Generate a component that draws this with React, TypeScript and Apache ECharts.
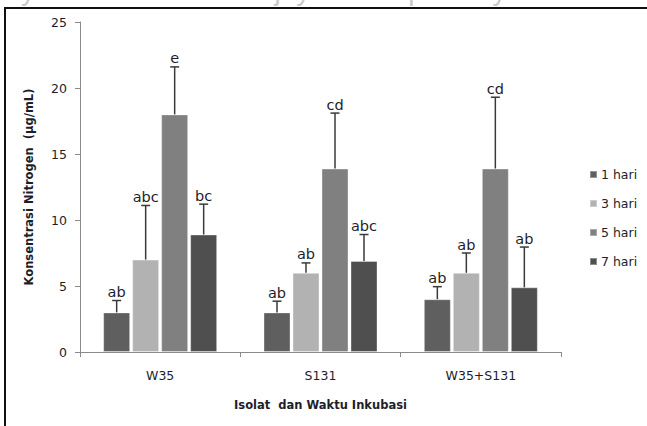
import React, { useEffect, useRef } from "react";
import * as echarts from "echarts";

const categories = ["W35", "S131", "W35+S131"];
const seriesNames = ["1 hari", "3 hari", "5 hari", "7 hari"];
const values = [
  [3.0, 3.0, 4.0],
  [7.0, 6.0, 6.0],
  [18.0, 13.9, 13.9],
  [8.9, 6.9, 4.9],
];
const errors = [
  [0.9, 0.85, 0.95],
  [4.1, 0.75, 1.5],
  [3.6, 4.2, 5.4],
  [2.3, 2.0, 3.05],
];
const letters = [
  ["ab", "ab", "ab"],
  ["abc", "ab", "ab"],
  ["e", "cd", "cd"],
  ["bc", "abc", "ab"],
];
const colors = ["#5f5f5f", "#b2b2b2", "#808080", "#4f4f4f"];
const yTicks = [0, 5, 10, 15, 20, 25];

const FONT = "DejaVu Sans";
const BAR_W = 27;
const BAR_GAP = 2;

export default function App() {
  const ref = useRef<HTMLDivElement>(null);
  useEffect(() => {
    if (!ref.current) return;
    const chart = echarts.init(ref.current, null, { renderer: "svg" });
    const barSeries = seriesNames.map((name, i) => ({
      name,
      type: "bar",
      data: values[i],
      barWidth: BAR_W,
      barGap: (BAR_GAP / BAR_W) * 100 + "%",
      itemStyle: { color: colors[i], borderColor: "rgba(255,255,255,0.35)", borderWidth: 1 },
      z: 2,
    }));
    const errSeries = seriesNames.map((name, i) => ({
      name: name + "_err",
      type: "custom",
      data: categories.map((_, c) => [c, values[i][c], errors[i][c]]),
      z: 3,
      renderItem: (params: any, api: any) => {
        const c = api.value(0);
        const v = api.value(1);
        const e = api.value(2);
        const base = api.coord([c, v]);
        const top = api.coord([c, v + e]);
        const off = (i - 1.5) * (BAR_W + BAR_GAP);
        const x = base[0] + off;
        return {
          type: "group",
          children: [
            {
              type: "line",
              shape: { x1: x, y1: base[1], x2: x, y2: top[1] },
              style: { stroke: "#3a3a3a", lineWidth: 1.5 },
            },
            {
              type: "line",
              shape: { x1: x - 4.5, y1: top[1], x2: x + 4.5, y2: top[1] },
              style: { stroke: "#3a3a3a", lineWidth: 1.5 },
            },
            {
              type: "text",
              x: x,
              y: top[1] - 1,
              style: {
                text: letters[i][c],
                fontFamily: FONT,
                fontSize: 14.5,
                fill: "#1e1e2a",
                align: "center",
                verticalAlign: "bottom",
              },
            },
          ],
        };
      },
    }));
    chart.setOption({
      animation: false,
      backgroundColor: "#ffffff",
      grid: { left: 80, right: 86, top: 22, bottom: 74, containLabel: false },
      legend: {
        data: seriesNames,
        orient: "vertical",
        left: 584,
        top: 163,
        itemWidth: 7,
        itemHeight: 7,
        itemGap: 16,
        icon: "rect",
        textStyle: { fontFamily: FONT, fontSize: 12.5, color: "#1e1e2a", padding: [0, 0, 0, -1] },
      },
      xAxis: {
        type: "category",
        data: categories,
        name: "Isolat  dan Waktu Inkubasi",
        nameLocation: "middle",
        nameGap: 47,
        nameTextStyle: { fontFamily: FONT, fontSize: 11.5, fontWeight: "bold", color: "#1e1e2a" },
        axisLine: { lineStyle: { color: "#8a8a8a", width: 1 } },
        axisTick: { show: true, alignWithLabel: false, length: 5, lineStyle: { color: "#8a8a8a" } },
        axisLabel: { fontFamily: FONT, fontSize: 12.5, color: "#1e1e2a", margin: 17 },
      },
      yAxis: {
        type: "value",
        min: yTicks[0],
        max: yTicks[yTicks.length - 1],
        interval: 5,
        name: "Konsentrasi Nitrogen  (µg/mL)",
        nameLocation: "middle",
        nameRotate: 90,
        nameGap: 45,
        nameTextStyle: { fontFamily: FONT, fontSize: 11.5, fontWeight: "bold", color: "#1e1e2a" },
        axisLine: { show: true, lineStyle: { color: "#8a8a8a", width: 1 } },
        axisTick: { show: true, length: 5, lineStyle: { color: "#8a8a8a" } },
        axisLabel: { fontFamily: FONT, fontSize: 12.5, color: "#1e1e2a", margin: 13 },
        splitLine: { show: false },
      },
      graphic: [
        {
          type: "text",
          left: -18,
          top: -24,
          z: 0,
          silent: true,
          style: {
            text: "itory  Universitas  Brawijaya      Repository",
            fontFamily: "Liberation Sans",
            fontSize: 28,
            fill: "#c8c8c8",
          },
        },
        {
          type: "rect",
          shape: { x: 5, y: 8, width: 700, height: 500 },
          style: { fill: "#ffffff", stroke: "#111111", lineWidth: 2 },
          z: -1,
          silent: true,
        },
      ],
      series: [...barSeries, ...errSeries],
    });
    return () => chart.dispose();
  }, []);
  return <div ref={ref} style={{ width: 647, height: 426, position: "absolute", left: 0, top: 0 }} />;
}
